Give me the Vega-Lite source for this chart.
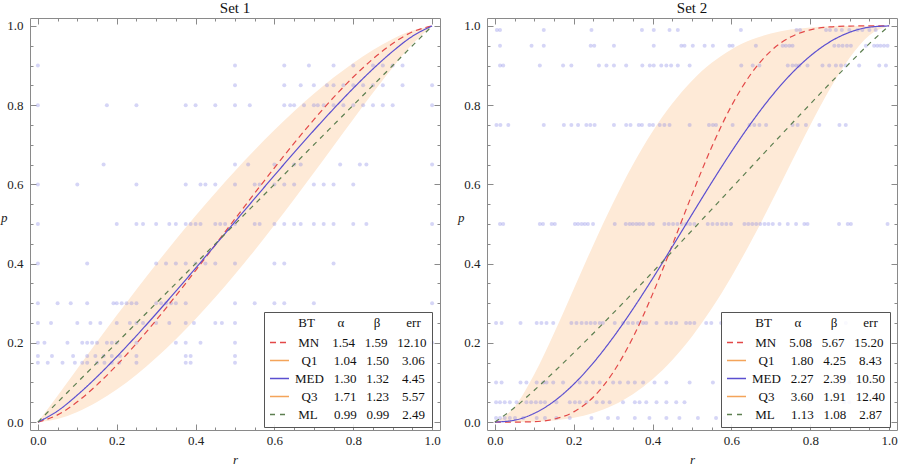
{
  "$schema": "https://vega.github.io/schema/vega-lite/v6.json",
  "background": "white",
  "padding": {"left": 0, "top": 0, "right": 0, "bottom": 0},
  "spacing": 16,
  "datasets": {
    "pts": [
      {"set": "Set 1", "p": 0.9, "r": [0, 0.5, 0.625, 0.6875, 0.75, 0.8, 0.85, 0.875, 0.9, 0.925]},
      {"set": "Set 1", "p": 0.85, "r": [0.5, 0.625, 0.6667, 0.7, 0.7333, 0.75, 0.775, 0.8, 0.825, 0.85, 0.875, 0.925, 1]},
      {"set": "Set 1", "p": 0.8, "r": [0, 0.175, 0.25, 0.375, 0.4, 0.45, 0.5, 0.5375, 0.625, 0.64, 0.65, 0.675, 0.7, 0.71, 0.725, 0.75, 0.775, 0.8, 0.825, 0.85, 0.875, 0.9, 1]},
      {"set": "Set 1", "p": 0.65, "r": [0.1667, 0.5, 0.5333, 0.6, 0.65, 0.6667, 0.7667, 0.8167, 0.8333, 1]},
      {"set": "Set 1", "p": 0.6, "r": [0, 0.1, 0.25, 0.375, 0.4125, 0.425, 0.45, 0.5, 0.55, 0.5625, 0.6, 0.625, 0.65, 0.7, 0.725, 0.75, 0.8]},
      {"set": "Set 1", "p": 0.5, "r": [0, 0.2, 0.25, 0.2667, 0.3, 0.3333, 0.35, 0.375, 0.3875, 0.4, 0.4125, 0.45, 0.4625, 0.475, 0.5, 0.55, 0.5625, 0.6, 0.625, 0.65, 0.6667, 0.7, 0.725, 0.75, 0.8, 0.8333, 1]},
      {"set": "Set 1", "p": 0.4, "r": [0, 0.125, 0.3, 0.325, 0.35, 0.375, 0.4, 0.425, 0.45, 0.5, 0.6, 0.625, 0.75]},
      {"set": "Set 1", "p": 0.3, "r": [0, 0.05, 0.0833, 0.125, 0.1917, 0.2, 0.2125, 0.225, 0.2375, 0.25, 0.3, 0.3125, 0.325, 0.3375, 0.35, 0.375, 0.5, 0.55, 0.6, 0.625, 0.7, 1]},
      {"set": "Set 1", "p": 0.25, "r": [0, 0.0333, 0.1, 0.1333, 0.1583, 0.2, 0.2333, 0.25, 0.2667, 0.3, 0.3333, 0.375, 0.3958, 0.45, 0.4667, 0.5, 0.7]},
      {"set": "Set 1", "p": 0.2, "r": [0, 0.0167, 0.075, 0.1125, 0.125, 0.1375, 0.15, 0.175, 0.1875, 0.2, 0.25, 0.35, 0.375, 0.4125, 0.5, 1]},
      {"set": "Set 1", "p": 0.1667, "r": [0, 0.0357, 0.0893, 0.125, 0.1458, 0.1667, 0.1875, 0.2083, 0.25, 0.375, 0.3875, 0.5]},
      {"set": "Set 1", "p": 0.15, "r": [0, 0.025, 0.0625, 0.0938, 0.1125, 0.125, 0.15, 0.1688, 0.1875, 0.2063, 0.25, 0.375, 0.3875, 0.5]},
      {"set": "Set 2", "p": 0.99, "r": [0.005, 0.013, 0.124, 0.245, 0.373, 0.403, 0.443, 0.464, 0.624, 0.765, 0.774, 0.84, 0.85, 0.865, 0.88, 0.899, 0.92, 0.932, 0.95, 0.966]},
      {"set": "Set 2", "p": 0.95, "r": [0.013, 0.093, 0.124, 0.243, 0.252, 0.302, 0.403, 0.473, 0.481, 0.502, 0.532, 0.553, 0.595, 0.603, 0.662, 0.73, 0.738, 0.747, 0.755, 0.861, 0.872, 0.882, 0.893, 0.903, 0.941, 0.962, 0.97, 0.978, 0.987, 0.996]},
      {"set": "Set 2", "p": 0.9, "r": [0.013, 0.021, 0.114, 0.173, 0.194, 0.264, 0.283, 0.302, 0.333, 0.374, 0.393, 0.403, 0.422, 0.435, 0.447, 0.464, 0.494, 0.625, 0.654, 0.671, 0.743, 0.755, 0.764, 0.772, 0.793, 0.831, 0.848, 0.865, 0.878, 0.89, 0.924, 0.975, 0.992]},
      {"set": "Set 2", "p": 0.75, "r": [0.004, 0.014, 0.034, 0.124, 0.175, 0.194, 0.211, 0.232, 0.242, 0.253, 0.302, 0.333, 0.344, 0.365, 0.373, 0.392, 0.401, 0.418, 0.43, 0.443, 0.494, 0.543, 0.553, 0.561, 0.603, 0.646, 0.658, 0.671, 0.688, 0.755, 0.768, 0.789, 0.823, 0.874, 0.89]},
      {"set": "Set 2", "p": 0.5, "r": [0.013, 0.021, 0.114, 0.122, 0.144, 0.152, 0.203, 0.211, 0.22, 0.228, 0.236, 0.249, 0.304, 0.332, 0.342, 0.35, 0.359, 0.367, 0.376, 0.392, 0.401, 0.43, 0.441, 0.452, 0.463, 0.474, 0.485, 0.495, 0.506, 0.54, 0.552, 0.564, 0.576, 0.587, 0.599, 0.633, 0.643, 0.653, 0.663, 0.673, 0.684, 0.694, 0.705, 0.722, 0.743, 0.764, 0.785, 0.793, 0.873, 0.895, 0.903, 0.996]},
      {"set": "Set 2", "p": 0.25, "r": [0.003, 0.017, 0.065, 0.106, 0.118, 0.131, 0.148, 0.194, 0.207, 0.22, 0.232, 0.243, 0.254, 0.266, 0.274, 0.304, 0.325, 0.338, 0.35, 0.363, 0.376, 0.384, 0.41, 0.435, 0.447, 0.46, 0.485, 0.495, 0.506, 0.536, 0.549, 0.574, 0.89]},
      {"set": "Set 2", "p": 0.1, "r": [0.003, 0.017, 0.065, 0.08, 0.106, 0.123, 0.131, 0.148, 0.173, 0.215, 0.232, 0.249, 0.266, 0.3, 0.317, 0.338, 0.355, 0.376, 0.405, 0.435, 0.494, 0.553, 0.873, 0.886, 0.899]},
      {"set": "Set 2", "p": 0.05, "r": [0.003, 0.013, 0.025, 0.038, 0.055, 0.08, 0.092, 0.104, 0.116, 0.127, 0.156, 0.19, 0.203, 0.215, 0.232, 0.258, 0.274, 0.291, 0.325, 0.355, 0.367, 0.384, 0.41, 0.435, 0.46, 0.481, 0.797, 0.886, 0.899]},
      {"set": "Set 2", "p": 0.01, "r": [0.003, 0.013, 0.025, 0.038, 0.051, 0.072, 0.106, 0.127, 0.156, 0.19, 0.245, 0.287, 0.312, 0.355, 0.392, 0.435, 0.468, 0.515, 0.561, 0.582, 0.667, 0.688, 0.705]}
    ],
    "curves": [
      {"set": "Set 1", "r": 0, "MN": 0, "Q1": 0, "MED": 0, "Q3": 0, "ML": 0},
      {"set": "Set 1", "r": 0.05, "MN": 0.0181, "Q1": 0.0665, "MED": 0.0281, "Q3": 0.0079, "ML": 0.05},
      {"set": "Set 1", "r": 0.1, "MN": 0.0512, "Q1": 0.1347, "MED": 0.0682, "Q3": 0.0255, "ML": 0.1},
      {"set": "Set 1", "r": 0.15, "MN": 0.094, "Q1": 0.2026, "MED": 0.1144, "Q3": 0.0507, "ML": 0.15},
      {"set": "Set 1", "r": 0.2, "MN": 0.1436, "Q1": 0.2694, "MED": 0.1648, "Q3": 0.0824, "ML": 0.2},
      {"set": "Set 1", "r": 0.25, "MN": 0.1984, "Q1": 0.3349, "MED": 0.218, "Q3": 0.1197, "ML": 0.25},
      {"set": "Set 1", "r": 0.3, "MN": 0.2572, "Q1": 0.3987, "MED": 0.2734, "Q3": 0.1621, "ML": 0.3},
      {"set": "Set 1", "r": 0.35, "MN": 0.3189, "Q1": 0.4607, "MED": 0.3303, "Q3": 0.2091, "ML": 0.35},
      {"set": "Set 1", "r": 0.4, "MN": 0.3826, "Q1": 0.5206, "MED": 0.3883, "Q3": 0.2602, "ML": 0.4},
      {"set": "Set 1", "r": 0.45, "MN": 0.4475, "Q1": 0.5785, "MED": 0.4469, "Q3": 0.315, "ML": 0.45},
      {"set": "Set 1", "r": 0.5, "MN": 0.5129, "Q1": 0.6339, "MED": 0.5058, "Q3": 0.3731, "ML": 0.5},
      {"set": "Set 1", "r": 0.55, "MN": 0.5779, "Q1": 0.6869, "MED": 0.5645, "Q3": 0.434, "ML": 0.55},
      {"set": "Set 1", "r": 0.6, "MN": 0.6418, "Q1": 0.7372, "MED": 0.6228, "Q3": 0.4973, "ML": 0.6},
      {"set": "Set 1", "r": 0.65, "MN": 0.7039, "Q1": 0.7846, "MED": 0.6802, "Q3": 0.5626, "ML": 0.65},
      {"set": "Set 1", "r": 0.7, "MN": 0.7634, "Q1": 0.8289, "MED": 0.7363, "Q3": 0.6294, "ML": 0.7},
      {"set": "Set 1", "r": 0.75, "MN": 0.8194, "Q1": 0.8697, "MED": 0.7906, "Q3": 0.6969, "ML": 0.75},
      {"set": "Set 1", "r": 0.8, "MN": 0.871, "Q1": 0.9067, "MED": 0.8426, "Q3": 0.7645, "ML": 0.8},
      {"set": "Set 1", "r": 0.85, "MN": 0.9169, "Q1": 0.9394, "MED": 0.8914, "Q3": 0.8311, "ML": 0.85},
      {"set": "Set 1", "r": 0.9, "MN": 0.9557, "Q1": 0.967, "MED": 0.9358, "Q3": 0.8953, "ML": 0.9},
      {"set": "Set 1", "r": 0.95, "MN": 0.9849, "Q1": 0.9883, "MED": 0.9739, "Q3": 0.9542, "ML": 0.95},
      {"set": "Set 1", "r": 1, "MN": 1, "Q1": 1, "MED": 1, "Q3": 1, "ML": 1},
      {"set": "Set 2", "r": 0, "MN": 0, "Q1": 0, "MED": 0, "Q3": 0, "ML": 0},
      {"set": "Set 2", "r": 0.05, "MN": 0, "Q1": 0.0385, "MED": 0.0048, "Q3": 0.0001, "ML": 0.0367},
      {"set": "Set 2", "r": 0.1, "MN": 0.0011, "Q1": 0.1205, "MED": 0.0221, "Q3": 0.001, "ML": 0.0804},
      {"set": "Set 2", "r": 0.15, "MN": 0.0074, "Q1": 0.224, "MED": 0.0525, "Q3": 0.004, "ML": 0.1267},
      {"set": "Set 2", "r": 0.2, "MN": 0.0257, "Q1": 0.336, "MED": 0.0956, "Q3": 0.0107, "ML": 0.1748},
      {"set": "Set 2", "r": 0.25, "MN": 0.0633, "Q1": 0.4479, "MED": 0.1499, "Q3": 0.023, "ML": 0.2243},
      {"set": "Set 2", "r": 0.3, "MN": 0.1255, "Q1": 0.5538, "MED": 0.2137, "Q3": 0.0423, "ML": 0.2749},
      {"set": "Set 2", "r": 0.35, "MN": 0.2132, "Q1": 0.6498, "MED": 0.2852, "Q3": 0.0703, "ML": 0.3263},
      {"set": "Set 2", "r": 0.4, "MN": 0.323, "Q1": 0.7336, "MED": 0.3622, "Q3": 0.108, "ML": 0.3784},
      {"set": "Set 2", "r": 0.45, "MN": 0.4468, "Q1": 0.8043, "MED": 0.4426, "Q3": 0.1565, "ML": 0.4309},
      {"set": "Set 2", "r": 0.5, "MN": 0.5742, "Q1": 0.8619, "MED": 0.5243, "Q3": 0.216, "ML": 0.4838},
      {"set": "Set 2", "r": 0.55, "MN": 0.6944, "Q1": 0.9069, "MED": 0.6049, "Q3": 0.2865, "ML": 0.537},
      {"set": "Set 2", "r": 0.6, "MN": 0.7981, "Q1": 0.9407, "MED": 0.6825, "Q3": 0.3671, "ML": 0.5904},
      {"set": "Set 2", "r": 0.65, "MN": 0.8794, "Q1": 0.9648, "MED": 0.7549, "Q3": 0.4565, "ML": 0.6438},
      {"set": "Set 2", "r": 0.7, "MN": 0.9367, "Q1": 0.9809, "MED": 0.8204, "Q3": 0.5523, "ML": 0.6971},
      {"set": "Set 2", "r": 0.75, "MN": 0.9719, "Q1": 0.9908, "MED": 0.8773, "Q3": 0.6514, "ML": 0.7502},
      {"set": "Set 2", "r": 0.8, "MN": 0.9902, "Q1": 0.9963, "MED": 0.9241, "Q3": 0.7495, "ML": 0.8029},
      {"set": "Set 2", "r": 0.85, "MN": 0.9977, "Q1": 0.9989, "MED": 0.9599, "Q3": 0.8412, "ML": 0.855},
      {"set": "Set 2", "r": 0.9, "MN": 0.9997, "Q1": 0.9998, "MED": 0.984, "Q3": 0.9198, "ML": 0.906},
      {"set": "Set 2", "r": 0.95, "MN": 1, "Q1": 1, "MED": 0.9968, "Q3": 0.9767, "ML": 0.9554},
      {"set": "Set 2", "r": 1, "MN": 1, "Q1": 1, "MED": 1, "Q3": 1, "ML": 1}
    ]
  },
  "hconcat": [
    {
      "title": {"text": "Set 1"},
      "width": 410,
      "height": 412,
      "layer": [
        {
          "data": {"name": "curves"},
          "transform": [{"filter": "datum.set === 'Set 1'"}],
          "mark": {"type": "area", "interpolate": "monotone", "color": "#feead7", "opacity": 1},
          "encoding": {
            "x": {"field": "r", "type": "quantitative", "scale": {"domain": [-0.02, 1.02], "nice": false, "zero": false},
              "axis": {"orient": "bottom", "values": [0, 0.05, 0.1, 0.15, 0.2, 0.25, 0.3, 0.35, 0.4, 0.45, 0.5, 0.55, 0.6, 0.65, 0.7, 0.75, 0.8, 0.85, 0.9, 0.95, 1],
                "labelExpr": "round(datum.value*20)%4==0 ? format(datum.value,'.1f') : ''",
                "tickSize": {"condition": {"test": "round(datum.value*20)%4==0", "value": -6}, "value": -3},
                "labelPadding": 10, "title": "r", "titlePadding": 3}},
            "y": {"field": "Q3", "type": "quantitative", "scale": {"domain": [-0.02, 1.02], "nice": false, "zero": false},
              "axis": {"orient": "left", "values": [0, 0.05, 0.1, 0.15, 0.2, 0.25, 0.3, 0.35, 0.4, 0.45, 0.5, 0.55, 0.6, 0.65, 0.7, 0.75, 0.8, 0.85, 0.9, 0.95, 1],
                "labelExpr": "round(datum.value*20)%4==0 ? format(datum.value,'.1f') : ''",
                "tickSize": {"condition": {"test": "round(datum.value*20)%4==0", "value": -6}, "value": -3},
                "labelPadding": 13, "title": "p", "titleAngle": 0, "titlePadding": 3}},
            "y2": {"field": "Q1"}
          }
        },
        {
          "data": {"name": "pts"},
          "transform": [{"filter": "datum.set === 'Set 1'"}, {"flatten": ["r"]}],
          "mark": {"type": "point", "filled": true, "size": 16, "color": "#7b7be3", "opacity": 0.32},
          "encoding": {
            "x": {"field": "r", "type": "quantitative",
              "axis": {"orient": "top", "values": [0, 0.05, 0.1, 0.15, 0.2, 0.25, 0.3, 0.35, 0.4, 0.45, 0.5, 0.55, 0.6, 0.65, 0.7, 0.75, 0.8, 0.85, 0.9, 0.95, 1],
                "labels": false, "title": null,
                "tickSize": {"condition": {"test": "round(datum.value*20)%4==0", "value": -6}, "value": -3}}},
            "y": {"field": "p", "type": "quantitative",
              "axis": {"orient": "right", "values": [0, 0.05, 0.1, 0.15, 0.2, 0.25, 0.3, 0.35, 0.4, 0.45, 0.5, 0.55, 0.6, 0.65, 0.7, 0.75, 0.8, 0.85, 0.9, 0.95, 1],
                "labels": false, "title": null,
                "tickSize": {"condition": {"test": "round(datum.value*20)%4==0", "value": -6}, "value": -3}}}
          }
        },
        {
          "data": {"name": "curves"},
          "transform": [{"filter": "datum.set === 'Set 1'"}, {"fold": ["MN", "MED", "ML"], "as": ["series", "p"]}],
          "mark": {"type": "line", "interpolate": "monotone", "strokeWidth": 1.2},
          "encoding": {
            "x": {"field": "r", "type": "quantitative", "axis": null},
            "y": {"field": "p", "type": "quantitative", "axis": null},
            "color": {"field": "series", "type": "nominal",
              "scale": {"domain": ["MN", "Q1", "MED", "Q3", "ML"], "range": ["#e34848", "#f4a45a", "#5b4fd0", "#f4a45a", "#5d7f50"]},
              "legend": {"orient": "none", "legendX": 234, "legendY": 294,
                "title": "\u200b\u00a0\u00a0\u00a0\u00a0\u00a0\u00a0\u00a0\u00a0\u00a0BT\u00a0\u00a0\u00a0\u00a0\u00a0\u00a0\u00a0α\u00a0\u00a0\u00a0\u00a0\u00a0\u00a0\u00a0\u00a0\u00a0β\u00a0\u00a0\u00a0\u00a0\u00a0\u00a0\u00a0\u00a0err",
                "labelExpr": "datum.label=='MN' ? '\u200b\u00a0MN\u00a0\u00a0\u00a0\u00a01.54\u00a0\u00a0\u00a01.59\u00a0\u00a0\u00a012.10' : datum.label=='Q1' ? '\u200b\u00a0\u00a0Q1\u00a0\u00a0\u00a0\u00a0\u00a01.04\u00a0\u00a0\u00a01.50\u00a0\u00a0\u00a0\u00a03.06' : datum.label=='MED' ? 'MED\u00a0\u00a0\u00a01.30\u00a0\u00a0\u00a01.32\u00a0\u00a0\u00a0\u00a04.45' : datum.label=='Q3' ? '\u200b\u00a0\u00a0Q3\u00a0\u00a0\u00a0\u00a0\u00a01.71\u00a0\u00a0\u00a01.23\u00a0\u00a0\u00a0\u00a05.57' : '\u200b\u00a0ML\u00a0\u00a0\u00a0\u00a0\u00a00.99\u00a0\u00a0\u00a00.99\u00a0\u00a0\u00a0\u00a02.49'"}},
            "strokeDash": {"field": "series", "type": "nominal",
              "scale": {"domain": ["MN", "Q1", "MED", "Q3", "ML"], "range": [[6, 4], [1, 0], [1, 0], [1, 0], [5, 5]]},
              "legend": {"orient": "none", "legendX": 234, "legendY": 294,
                "title": "\u200b\u00a0\u00a0\u00a0\u00a0\u00a0\u00a0\u00a0\u00a0\u00a0BT\u00a0\u00a0\u00a0\u00a0\u00a0\u00a0\u00a0α\u00a0\u00a0\u00a0\u00a0\u00a0\u00a0\u00a0\u00a0\u00a0β\u00a0\u00a0\u00a0\u00a0\u00a0\u00a0\u00a0\u00a0err",
                "labelExpr": "datum.label=='MN' ? '\u200b\u00a0MN\u00a0\u00a0\u00a0\u00a01.54\u00a0\u00a0\u00a01.59\u00a0\u00a0\u00a012.10' : datum.label=='Q1' ? '\u200b\u00a0\u00a0Q1\u00a0\u00a0\u00a0\u00a0\u00a01.04\u00a0\u00a0\u00a01.50\u00a0\u00a0\u00a0\u00a03.06' : datum.label=='MED' ? 'MED\u00a0\u00a0\u00a01.30\u00a0\u00a0\u00a01.32\u00a0\u00a0\u00a0\u00a04.45' : datum.label=='Q3' ? '\u200b\u00a0\u00a0Q3\u00a0\u00a0\u00a0\u00a0\u00a01.71\u00a0\u00a0\u00a01.23\u00a0\u00a0\u00a0\u00a05.57' : '\u200b\u00a0ML\u00a0\u00a0\u00a0\u00a0\u00a00.99\u00a0\u00a0\u00a00.99\u00a0\u00a0\u00a0\u00a02.49'"}}
          }
        }
      ],
      "resolve": {"axis": {"x": "independent", "y": "independent"}}
    },
    {
      "title": {"text": "Set 2"},
      "width": 410,
      "height": 412,
      "layer": [
        {
          "data": {"name": "curves"},
          "transform": [{"filter": "datum.set === 'Set 2'"}],
          "mark": {"type": "area", "interpolate": "monotone", "color": "#feead7", "opacity": 1},
          "encoding": {
            "x": {"field": "r", "type": "quantitative", "scale": {"domain": [-0.02, 1.02], "nice": false, "zero": false},
              "axis": {"orient": "bottom", "values": [0, 0.05, 0.1, 0.15, 0.2, 0.25, 0.3, 0.35, 0.4, 0.45, 0.5, 0.55, 0.6, 0.65, 0.7, 0.75, 0.8, 0.85, 0.9, 0.95, 1],
                "labelExpr": "round(datum.value*20)%4==0 ? format(datum.value,'.1f') : ''",
                "tickSize": {"condition": {"test": "round(datum.value*20)%4==0", "value": -6}, "value": -3},
                "labelPadding": 10, "title": "r", "titlePadding": 3}},
            "y": {"field": "Q3", "type": "quantitative", "scale": {"domain": [-0.02, 1.02], "nice": false, "zero": false},
              "axis": {"orient": "left", "values": [0, 0.05, 0.1, 0.15, 0.2, 0.25, 0.3, 0.35, 0.4, 0.45, 0.5, 0.55, 0.6, 0.65, 0.7, 0.75, 0.8, 0.85, 0.9, 0.95, 1],
                "labelExpr": "round(datum.value*20)%4==0 ? format(datum.value,'.1f') : ''",
                "tickSize": {"condition": {"test": "round(datum.value*20)%4==0", "value": -6}, "value": -3},
                "labelPadding": 13, "title": "p", "titleAngle": 0, "titlePadding": 3}},
            "y2": {"field": "Q1"}
          }
        },
        {
          "data": {"name": "pts"},
          "transform": [{"filter": "datum.set === 'Set 2'"}, {"flatten": ["r"]}],
          "mark": {"type": "point", "filled": true, "size": 16, "color": "#7b7be3", "opacity": 0.32},
          "encoding": {
            "x": {"field": "r", "type": "quantitative",
              "axis": {"orient": "top", "values": [0, 0.05, 0.1, 0.15, 0.2, 0.25, 0.3, 0.35, 0.4, 0.45, 0.5, 0.55, 0.6, 0.65, 0.7, 0.75, 0.8, 0.85, 0.9, 0.95, 1],
                "labels": false, "title": null,
                "tickSize": {"condition": {"test": "round(datum.value*20)%4==0", "value": -6}, "value": -3}}},
            "y": {"field": "p", "type": "quantitative",
              "axis": {"orient": "right", "values": [0, 0.05, 0.1, 0.15, 0.2, 0.25, 0.3, 0.35, 0.4, 0.45, 0.5, 0.55, 0.6, 0.65, 0.7, 0.75, 0.8, 0.85, 0.9, 0.95, 1],
                "labels": false, "title": null,
                "tickSize": {"condition": {"test": "round(datum.value*20)%4==0", "value": -6}, "value": -3}}}
          }
        },
        {
          "data": {"name": "curves"},
          "transform": [{"filter": "datum.set === 'Set 2'"}, {"fold": ["MN", "MED", "ML"], "as": ["series", "p"]}],
          "mark": {"type": "line", "interpolate": "monotone", "strokeWidth": 1.2},
          "encoding": {
            "x": {"field": "r", "type": "quantitative", "axis": null},
            "y": {"field": "p", "type": "quantitative", "axis": null},
            "color": {"field": "series", "type": "nominal",
              "scale": {"domain": ["MN", "Q1", "MED", "Q3", "ML"], "range": ["#e34848", "#f4a45a", "#5b4fd0", "#f4a45a", "#5d7f50"]},
              "legend": {"orient": "none", "legendX": 234, "legendY": 294,
                "title": "\u200b\u00a0\u00a0\u00a0\u00a0\u00a0\u00a0\u00a0\u00a0\u00a0BT\u00a0\u00a0\u00a0\u00a0\u00a0\u00a0\u00a0α\u00a0\u00a0\u00a0\u00a0\u00a0\u00a0\u00a0\u00a0\u00a0β\u00a0\u00a0\u00a0\u00a0\u00a0\u00a0\u00a0\u00a0err",
                "labelExpr": "datum.label=='MN' ? '\u200b\u00a0MN\u00a0\u00a0\u00a0\u00a05.08\u00a0\u00a0\u00a05.67\u00a0\u00a0\u00a015.20' : datum.label=='Q1' ? '\u200b\u00a0\u00a0Q1\u00a0\u00a0\u00a0\u00a0\u00a01.80\u00a0\u00a0\u00a04.25\u00a0\u00a0\u00a0\u00a08.43' : datum.label=='MED' ? 'MED\u00a0\u00a0\u00a02.27\u00a0\u00a0\u00a02.39\u00a0\u00a0\u00a010.50' : datum.label=='Q3' ? '\u200b\u00a0\u00a0Q3\u00a0\u00a0\u00a0\u00a0\u00a03.60\u00a0\u00a0\u00a01.91\u00a0\u00a0\u00a012.40' : '\u200b\u00a0ML\u00a0\u00a0\u00a0\u00a0\u00a01.13\u00a0\u00a0\u00a01.08\u00a0\u00a0\u00a0\u00a02.87'"}},
            "strokeDash": {"field": "series", "type": "nominal",
              "scale": {"domain": ["MN", "Q1", "MED", "Q3", "ML"], "range": [[6, 4], [1, 0], [1, 0], [1, 0], [5, 5]]},
              "legend": {"orient": "none", "legendX": 234, "legendY": 294,
                "title": "\u200b\u00a0\u00a0\u00a0\u00a0\u00a0\u00a0\u00a0\u00a0\u00a0BT\u00a0\u00a0\u00a0\u00a0\u00a0\u00a0\u00a0α\u00a0\u00a0\u00a0\u00a0\u00a0\u00a0\u00a0\u00a0\u00a0β\u00a0\u00a0\u00a0\u00a0\u00a0\u00a0\u00a0\u00a0err",
                "labelExpr": "datum.label=='MN' ? '\u200b\u00a0MN\u00a0\u00a0\u00a0\u00a05.08\u00a0\u00a0\u00a05.67\u00a0\u00a0\u00a015.20' : datum.label=='Q1' ? '\u200b\u00a0\u00a0Q1\u00a0\u00a0\u00a0\u00a0\u00a01.80\u00a0\u00a0\u00a04.25\u00a0\u00a0\u00a0\u00a08.43' : datum.label=='MED' ? 'MED\u00a0\u00a0\u00a02.27\u00a0\u00a0\u00a02.39\u00a0\u00a0\u00a010.50' : datum.label=='Q3' ? '\u200b\u00a0\u00a0Q3\u00a0\u00a0\u00a0\u00a0\u00a03.60\u00a0\u00a0\u00a01.91\u00a0\u00a0\u00a012.40' : '\u200b\u00a0ML\u00a0\u00a0\u00a0\u00a0\u00a01.13\u00a0\u00a0\u00a01.08\u00a0\u00a0\u00a0\u00a02.87'"}}
          }
        }
      ],
      "resolve": {"axis": {"x": "independent", "y": "independent"}}
    }
  ],
  "resolve": {"scale": {"color": "independent", "strokeDash": "independent"}, "legend": {"color": "independent", "strokeDash": "independent"}},
  "config": {
    "font": "Liberation Serif",
    "view": {"stroke": "#8a8a8a", "strokeWidth": 1},
    "title": {"font": "Liberation Serif", "fontSize": 15, "fontWeight": "normal", "color": "#111", "anchor": "middle", "offset": 2},
    "axis": {"domain": false, "grid": false, "tickColor": "#8a8a8a", "tickWidth": 1, "labelFont": "Liberation Serif", "labelFontSize": 13, "labelColor": "#222", "labelFlush": false, "labelOverlap": false, "titleFont": "Liberation Serif", "titleFontSize": 13, "titleFontStyle": "italic", "titleFontWeight": "normal", "titleColor": "#222"},
    "legend": {"titleFont": "Liberation Serif", "titleFontSize": 13, "titleFontWeight": "normal", "titleColor": "#111", "titleLimit": 400, "titlePadding": 2, "labelFont": "Liberation Serif", "labelFontSize": 13, "labelColor": "#111", "labelLimit": 400, "labelOffset": 5, "symbolType": "stroke", "symbolSize": 361, "symbolStrokeWidth": 1.3, "rowPadding": -2, "padding": 5, "strokeColor": "#555", "fillColor": "rgba(255,255,255,0.85)"}
  }
}
